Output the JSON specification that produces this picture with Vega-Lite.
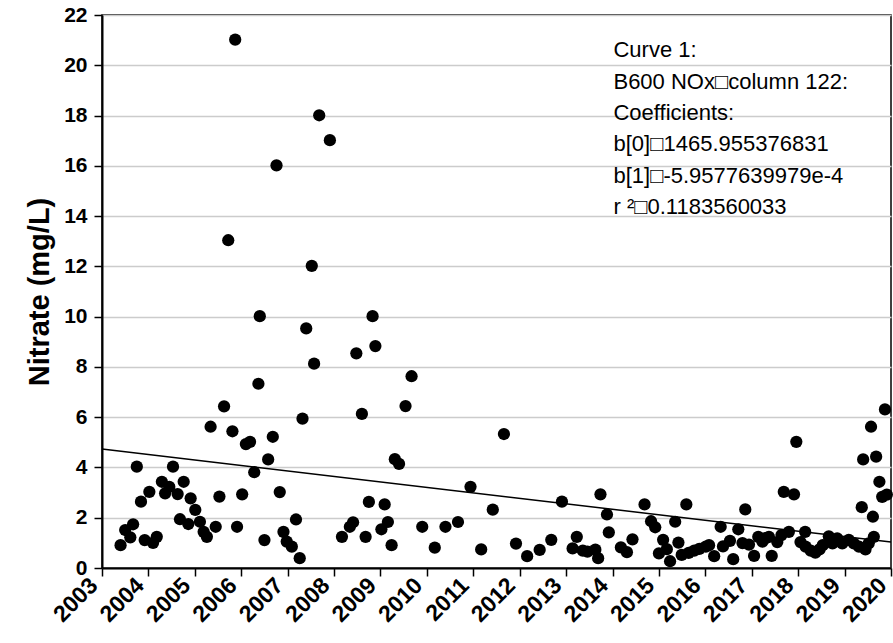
{
  "$schema": "https://vega.github.io/schema/vega-lite/v6.json",
  "width": 789,
  "height": 553,
  "autosize": {"type": "none"},
  "padding": {"left": 102, "top": 15, "right": 2, "bottom": 75},
  "background": "white",
  "config": {"view": {"stroke": "#000", "strokeWidth": 1.5}, "font": "Liberation Sans"},
  "datasets": {
    "obs": [
      {"t":2003.40,"v":0.91},{"t":2003.50,"v":1.51},{"t":2003.61,"v":1.22},{"t":2003.67,"v":1.74},{"t":2003.75,"v":4.03},
      {"t":2003.84,"v":2.64},{"t":2003.92,"v":1.11},{"t":2004.02,"v":3.03},{"t":2004.10,"v":1.00},{"t":2004.18,"v":1.24},
      {"t":2004.29,"v":3.43},{"t":2004.36,"v":2.97},{"t":2004.45,"v":3.23},{"t":2004.53,"v":4.03},{"t":2004.63,"v":2.94},
      {"t":2004.68,"v":1.94},{"t":2004.76,"v":3.43},{"t":2004.86,"v":1.75},{"t":2004.91,"v":2.77},{"t":2005.01,"v":2.31},
      {"t":2005.11,"v":1.84},{"t":2005.19,"v":1.44},{"t":2005.26,"v":1.24},{"t":2005.34,"v":5.62},{"t":2005.45,"v":1.64},
      {"t":2005.53,"v":2.84},{"t":2005.63,"v":6.43},{"t":2005.72,"v":13.04},{"t":2005.81,"v":5.44},{"t":2005.87,"v":21.02},
      {"t":2005.91,"v":1.64},{"t":2006.02,"v":2.93},{"t":2006.10,"v":4.93},{"t":2006.19,"v":5.02},{"t":2006.28,"v":3.81},
      {"t":2006.37,"v":7.33},{"t":2006.40,"v":10.02},{"t":2006.50,"v":1.11},{"t":2006.58,"v":4.32},{"t":2006.68,"v":5.22},
      {"t":2006.76,"v":16.02},{"t":2006.83,"v":3.02},{"t":2006.91,"v":1.44},{"t":2006.98,"v":1.05},{"t":2007.09,"v":0.85},
      {"t":2007.18,"v":1.93},{"t":2007.26,"v":0.39},{"t":2007.32,"v":5.94},{"t":2007.40,"v":9.53},{"t":2007.52,"v":12.02},
      {"t":2007.57,"v":8.13},{"t":2007.68,"v":18.01},{"t":2007.91,"v":17.02},{"t":2008.17,"v":1.24},{"t":2008.34,"v":1.64},
      {"t":2008.41,"v":1.82},{"t":2008.48,"v":8.54},{"t":2008.60,"v":6.13},{"t":2008.68,"v":1.24},{"t":2008.75,"v":2.63},
      {"t":2008.83,"v":10.02},{"t":2008.89,"v":8.83},{"t":2009.02,"v":1.54},{"t":2009.09,"v":2.53},{"t":2009.16,"v":1.83},
      {"t":2009.24,"v":0.91},{"t":2009.31,"v":4.33},{"t":2009.40,"v":4.14},{"t":2009.54,"v":6.44},{"t":2009.67,"v":7.63},
      {"t":2009.90,"v":1.64},{"t":2010.17,"v":0.81},{"t":2010.40,"v":1.64},{"t":2010.67,"v":1.83},{"t":2010.94,"v":3.23},
      {"t":2011.17,"v":0.74},{"t":2011.42,"v":2.32},{"t":2011.66,"v":5.33},{"t":2011.92,"v":0.97},{"t":2012.16,"v":0.47},
      {"t":2012.43,"v":0.72},{"t":2012.68,"v":1.12},{"t":2012.91,"v":2.64},{"t":2013.14,"v":0.78},{"t":2013.23,"v":1.24},
      {"t":2013.36,"v":0.69},{"t":2013.46,"v":0.65},{"t":2013.63,"v":0.73},{"t":2013.69,"v":0.39},{"t":2013.74,"v":2.93},
      {"t":2013.88,"v":2.13},{"t":2013.92,"v":1.42},{"t":2014.18,"v":0.82},{"t":2014.31,"v":0.63},{"t":2014.43,"v":1.14},
      {"t":2014.69,"v":2.53},{"t":2014.83,"v":1.86},{"t":2014.92,"v":1.62},{"t":2015.00,"v":0.58},{"t":2015.09,"v":1.12},
      {"t":2015.17,"v":0.75},{"t":2015.24,"v":0.27},{"t":2015.35,"v":1.84},{"t":2015.42,"v":1.01},{"t":2015.49,"v":0.52},
      {"t":2015.59,"v":2.53},{"t":2015.64,"v":0.60},{"t":2015.76,"v":0.69},{"t":2015.87,"v":0.76},{"t":2016.01,"v":0.85},
      {"t":2016.08,"v":0.91},{"t":2016.19,"v":0.47},{"t":2016.33,"v":1.64},{"t":2016.38,"v":0.86},{"t":2016.53,"v":1.08},
      {"t":2016.60,"v":0.35},{"t":2016.71,"v":1.54},{"t":2016.80,"v":0.99},{"t":2016.86,"v":2.33},{"t":2016.94,"v":0.93},
      {"t":2017.05,"v":0.48},{"t":2017.14,"v":1.24},{"t":2017.23,"v":1.05},{"t":2017.30,"v":1.19},{"t":2017.37,"v":1.24},
      {"t":2017.43,"v":0.48},{"t":2017.55,"v":1.03},{"t":2017.64,"v":1.31},{"t":2017.69,"v":3.03},{"t":2017.80,"v":1.44},
      {"t":2017.91,"v":2.93},{"t":2017.96,"v":5.02},{"t":2018.05,"v":1.03},{"t":2018.15,"v":1.44},{"t":2018.16,"v":0.85},
      {"t":2018.27,"v":0.69},{"t":2018.37,"v":0.61},{"t":2018.46,"v":0.74},{"t":2018.53,"v":0.91},{"t":2018.66,"v":1.26},
      {"t":2018.74,"v":0.98},{"t":2018.84,"v":1.18},{"t":2018.95,"v":0.98},{"t":2019.09,"v":1.12},{"t":2019.20,"v":0.98},
      {"t":2019.31,"v":0.85},{"t":2019.37,"v":2.42},{"t":2019.40,"v":4.32},{"t":2019.45,"v":0.74},{"t":2019.52,"v":0.98},
      {"t":2019.57,"v":5.62},{"t":2019.61,"v":2.04},{"t":2019.63,"v":1.24},{"t":2019.68,"v":4.43},{"t":2019.75,"v":3.43},
      {"t":2019.81,"v":2.83},{"t":2019.87,"v":6.31},{"t":2019.91,"v":2.92}
    ],
    "fit": [{"t": 2003, "v": 4.73}, {"t": 2020, "v": 1.03}],
    "notes": [
      {"t": 2014.02, "v": 20.6, "label": "Curve 1:"},
      {"t": 2014.02, "v": 19.35, "label": "B600 NOx□column 122:"},
      {"t": 2014.02, "v": 18.1, "label": "Coefficients:"},
      {"t": 2014.02, "v": 16.85, "label": "b[0]□1465.955376831"},
      {"t": 2014.02, "v": 15.6, "label": "b[1]□-5.9577639979e-4"},
      {"t": 2014.02, "v": 14.35, "label": "r ²□0.1183560033"}
    ]
  },
  "encoding": {
    "x": {
      "field": "t", "type": "quantitative",
      "scale": {"domain": [2003, 2020], "nice": false, "zero": false},
      "axis": {
        "title": null, "values": [2003,2004,2005,2006,2007,2008,2009,2010,2011,2012,2013,2014,2015,2016,2017,2018,2019,2020],
        "format": "d", "labelAngle": -45, "labelAlign": "right", "labelBaseline": "bottom",
        "labelFontSize": 23, "labelFontWeight": "bold", "labelColor": "#000",
        "labelPadding": 14, "tickSize": 8, "tickColor": "#000", "tickWidth": 1.5, "domainColor": "#000", "domainWidth": 2,
        "grid": false, "labelFlush": false, "labelOverlap": false, "labelBound": false
      }
    },
    "y": {
      "field": "v", "type": "quantitative",
      "scale": {"domain": [0, 22], "nice": false},
      "axis": {
        "title": "Nitrate (mg/L)", "titleFontSize": 29, "titleFontWeight": "bold", "titleColor": "#000", "titlePadding": 9,
        "values": [0,2,4,6,8,10,12,14,16,18,20,22], "labelFontSize": 21, "labelFontWeight": "bold", "labelColor": "#000",
        "labelPadding": 7, "tickSize": 8, "tickColor": "#000", "tickWidth": 1.5, "domainColor": "#000", "domainWidth": 2,
        "grid": true, "gridColor": "#cccccc", "gridWidth": 1.5, "labelFlush": false, "labelOverlap": false
      }
    }
  },
  "layer": [
    {"data": {"name": "obs"}, "mark": {"type": "circle", "size": 150, "color": "#000", "opacity": 1}},
    {"data": {"name": "fit"}, "mark": {"type": "line", "color": "#000", "strokeWidth": 1.5}},
    {"data": {"name": "notes"}, "mark": {"type": "text", "align": "left", "baseline": "middle", "fontSize": 22, "font": "Liberation Sans", "color": "#000"},
     "encoding": {"text": {"field": "label"}}}
  ]
}
